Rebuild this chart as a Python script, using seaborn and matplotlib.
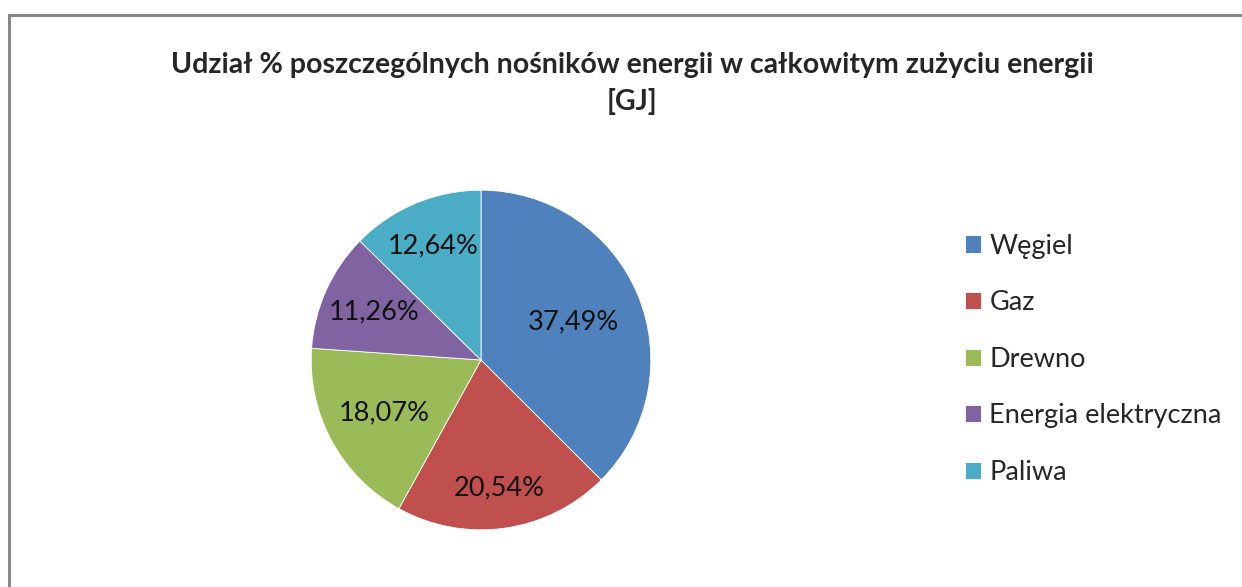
import numpy as np
import matplotlib
matplotlib.use("Agg")
import matplotlib.pyplot as plt
import seaborn as sns
from matplotlib.patches import Rectangle

sns.set_style("white")
plt.rcParams['font.family'] = ['Lato', 'DejaVu Sans']

# dane
nosniki = ['Węgiel', 'Gaz', 'Drewno', 'Energia elektryczna', 'Paliwa']
udzial = [37.49, 20.54, 18.07, 11.26, 12.64]
etykiety = ['37,49%', '20,54%', '18,07%', '11,26%', '12,64%']
kolory = ['#4F81BD', '#C0504D', '#9BBB59', '#8064A2', '#4BACC6']
tytul = 'Udział % poszczególnych nośników energii w całkowitym zużyciu energii\n[GJ]'

# odległość etykiet od środka (jak w Excelu)
odl_etykiet = [0.59, 0.76, 0.65, 0.69, 0.73]

fig = plt.figure(figsize=(12.42, 5.87), dpi=100)
fig.patch.set_facecolor('white')

# ramka wykresu (ucięta z prawej i z dołu)
fig.patches.append(Rectangle((9 / 1242, -0.1), 1.2, 1 - 15 / 587 + 0.1,
                             transform=fig.transFigure, fill=False,
                             edgecolor='#878787', linewidth=2.2))

ax = fig.add_axes([(481 - 180) / 1242, (587 - 360 - 180) / 587, 360 / 1242, 360 / 587])
wedges, _ = ax.pie(udzial, colors=kolory, startangle=90, counterclock=False,
                   wedgeprops=dict(edgecolor='white', linewidth=0.6))
ax.set_xlim(-1.06, 1.06)
ax.set_ylim(-1.06, 1.06)
ax.set_aspect('equal')
ax.axis('off')

for w, txt, r in zip(wedges, etykiety, odl_etykiet):
    kat = np.deg2rad((w.theta1 + w.theta2) / 2)
    ax.text(r * np.cos(kat), r * np.sin(kat), txt, ha='center', va='center',
            fontsize=19.5, color='#111111')

fig.text(0.509, 0.858, tytul, ha='center', va='center', fontsize=20.5,
         fontweight='bold', linespacing=1.45)

fig.legend(wedges, nosniki, loc='center left', bbox_to_anchor=(0.766, 0.388),
           frameon=False, fontsize=19.5, handlelength=0.6, handleheight=0.6,
           handletextpad=0.3, labelspacing=1.165, borderpad=0)

fig.savefig('out.png', dpi=100, facecolor='white')
